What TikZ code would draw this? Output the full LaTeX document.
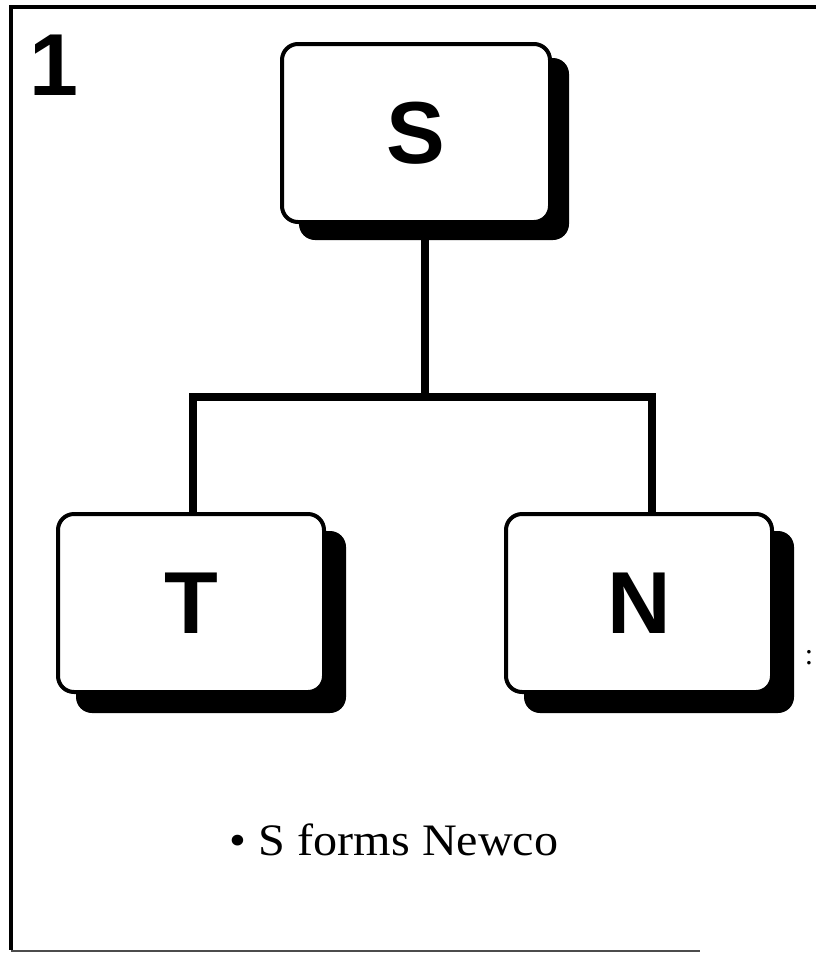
\documentclass[tikz,border=0pt]{standalone}
\usepackage{fontspec}
\setmainfont{Liberation Serif}
\setsansfont{Liberation Sans}
\begin{document}
\begin{tikzpicture}[x=1pt,y=1pt,
  orgbox/.style={draw=black, line width=4pt, fill=white, rounded corners=16pt,
    minimum width=266pt, minimum height=178pt, inner sep=0pt,
    font=\sffamily\bfseries\fontsize{88}{88}\selectfont},
  shadowbox/.style={fill=black, rounded corners=16pt, minimum width=270pt, minimum height=182pt, draw=none},
  conn/.style={line width=8pt}]
\useasboundingbox (0,0) rectangle (816,-954);
% frame
\draw[line width=4pt] (816,-7) -- (11,-7) -- (11,-950);
\draw[line width=2pt, black!70] (11,-951) -- (700,-951);
% shadows
\node[shadowbox] (Ssh) at (434,-149) {};
\node[shadowbox] (Tsh) at (211,-622) {};
\node[shadowbox] (Nsh) at (659,-622) {};
% boxes
\node[orgbox, minimum width=268pt] (S) at (416,-133) {S};
\node[orgbox] (T) at (191,-603) {T};
\node[orgbox] (N) at (639,-603) {N};
% connectors
\coordinate (J) at (425,-397);
\draw[conn] (S.south -| J) -- (J);
\draw[conn] (T.north -| 193,0) |- (J) -| (N.north -| 652,0);
% labels
\node[anchor=base west, font=\sffamily\bfseries\fontsize{88}{88}\selectfont, inner sep=0pt] (one) at (29,-95) {1};
\node[anchor=base west, font=\fontsize{45}{45}\selectfont, inner sep=0pt] (txt) at (229,-855) {\scalebox{1.07}[1]{\textbullet\hspace{12pt}S forms Newco}};
\node[anchor=center, font=\fontsize{30}{30}\selectfont, inner sep=0pt] (dots) at (809,-658) {:};
\end{tikzpicture}
\end{document}
